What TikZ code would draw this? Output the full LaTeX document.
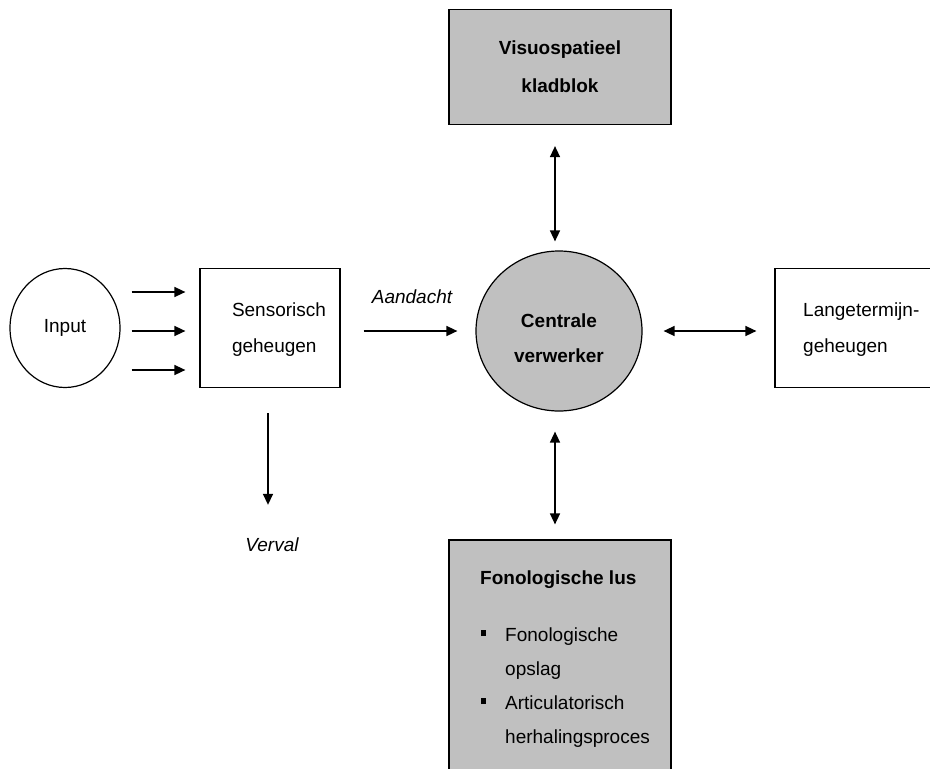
\documentclass[tikz,border=0pt]{standalone}
\usepackage{fontspec}
\setmainfont{Liberation Sans}
\usetikzlibrary{arrows.meta,shapes.geometric}
\definecolor{vlak}{RGB}{192,192,192}
\tikzset{
  box/.style={draw, line width=1.2pt, inner sep=0pt},
  tekst/.style={inner sep=0pt, align=left},
  pijl/.style={-{Triangle[length=11pt,width=10pt]}, line width=1.5pt},
  dubbel/.style={{Triangle[length=11pt,width=10pt]}-{Triangle[length=11pt,width=10pt]}, line width=1.5pt},
}
\begin{document}
\begin{tikzpicture}[x=1pt, y=-1pt, font=\fontsize{19}{36}\selectfont]
    \useasboundingbox (0,0) rectangle (930,769);
    % boxes
    \node[box, ellipse, minimum width=110pt, minimum height=119pt] (input) at (65,328) {Input};
    \node[box, minimum width=140pt, minimum height=119pt] (sens) at (270,328) {};
    \node[tekst] (senstekst) at (279,330) {Sensorisch\\geheugen};
    \node[box, ellipse, fill=vlak, minimum width=166pt, minimum height=160pt] (centr) at (559,331) {};
    \node[tekst, align=center, font=\fontsize{19}{35}\selectfont\bfseries] (centrtekst) at (559,338) {Centrale\\verwerker};
    \node[box, fill=vlak, minimum width=222pt, minimum height=115pt, align=center, font=\fontsize{19}{38}\selectfont\bfseries] (visuo) at (560,67) {Visuospatieel\\kladblok};
    \node[box, minimum width=170pt, minimum height=119pt] (lang) at (860,328) {};
    \node[tekst, anchor=west] (langtekst) at (803,330) {Langetermijn-\\geheugen};
    \node[box, fill=vlak, minimum width=222pt, minimum height=260pt] (fono) at (560,670) {};
    \node[tekst, anchor=west, font=\fontsize{19}{36}\selectfont\bfseries] (fonotitel) at (480,580) {Fonologische lus};
    \node[tekst, anchor=north west, font=\fontsize{19}{34}\selectfont] (fonolijst) at (481,617) {%
      \begin{tabular}{@{}p{24pt}@{}l@{}}
        \rule[5pt]{5pt}{6pt} & Fonologische\\
                             & opslag\\
        \rule[5pt]{5pt}{6pt} & Articulatorisch\\
                             & herhalingsproces
      \end{tabular}};
    \node[tekst, font=\fontsize{19}{36}\selectfont\itshape] (aandacht) at (412,297) {Aandacht};
    \node[tekst, font=\fontsize{19}{36}\selectfont\itshape] (verval) at (272,545) {Verval};
    % arrows
    \draw[pijl] ([xshift=11pt,yshift=36pt]input.east) -- ([xshift=-14pt,yshift=36pt]sens.west);
    \draw[pijl] ([xshift=11pt,yshift=-3pt]input.east) -- ([xshift=-14pt,yshift=-3pt]sens.west);
    \draw[pijl] ([xshift=11pt,yshift=-42pt]input.east) -- ([xshift=-14pt,yshift=-42pt]sens.west);
    \draw[pijl] ([xshift=23pt,yshift=-3pt]sens.east) -- ([xshift=-18pt]centr.west);
    \draw[pijl] ([xshift=-2pt,yshift=-25pt]sens.south) -- ([xshift=-4pt,yshift=33pt]verval.north);
    \draw[dubbel] ([xshift=-5pt,yshift=-21pt]visuo.south) -- ([xshift=-4pt,yshift=9pt]centr.north);
    \draw[dubbel] ([xshift=-4pt,yshift=-20pt]centr.south) -- ([xshift=-5pt,yshift=15pt]fono.north);
    \draw[dubbel] ([xshift=21pt]centr.east) -- ([xshift=-18pt,yshift=-3pt]lang.west);
\end{tikzpicture}
\end{document}
